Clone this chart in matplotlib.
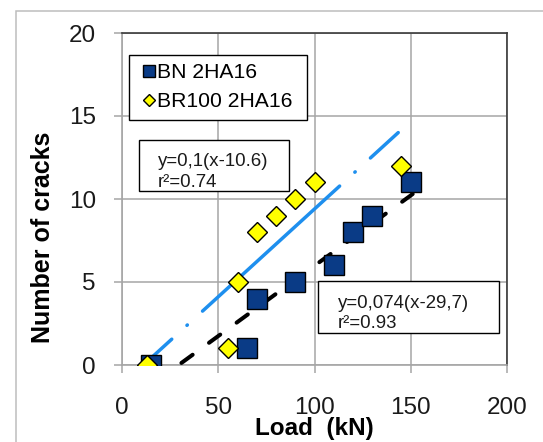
import matplotlib
matplotlib.use("Agg")
import matplotlib.pyplot as plt
from matplotlib.patches import Rectangle

plt.rcParams['font.family'] = ['Liberation Sans', 'DejaVu Sans']
plt.rcParams['lines.scale_dashes'] = False

# measured points
bn_load = [15, 65, 70, 90, 110, 120, 130, 150]
bn_cracks = [0, 1, 4, 5, 6, 8, 9, 11]
br_load = [13, 55, 60, 70, 80, 90, 100, 145]
br_cracks = [0, 1, 5, 8, 9, 10, 11, 12]

# trend lines as drawn (end points)
br_fit_load = [15.4, 143.5]
br_fit_cracks = [0.45, 14.0]
bn_fit_load = [30, 151]
bn_fit_cracks = [0.05, 10.3]

br_eq = ["y=0,1(x-10.6)", "r²=0.74"]
bn_eq = ["y=0,074(x-29,7)", "r²=0.93"]

x_ticks = [0, 50, 100, 150, 200]
y_ticks = [0, 5, 10, 15, 20]

navy = '#0A3B86'
sky = '#1E8FEE'
grid_gray = '#A6A6A6'

fig = plt.figure(figsize=(5.43, 4.42), dpi=100)
ax = fig.add_axes([122/543, 1-365/442, 385/543, 332/442])

# outer chart border
fig.patches.append(Rectangle((16/543, -0.2), 1.2, 1.2 - 11/442, transform=fig.transFigure,
                             fill=False, edgecolor='#BDBDBD', lw=1.1, zorder=0))

ax.plot(br_fit_load, br_fit_cracks, color=sky, lw=2.5, solid_capstyle='round',
        dash_capstyle='round', linestyle=(114, (133.6, 14.8, 0.4, 14.8)), zorder=3)
ax.plot(bn_fit_load, bn_fit_cracks, color='black', lw=2.9, dash_capstyle='round',
        linestyle=(-1.5, (10, 14.6)), zorder=3)

ax.plot(bn_load, bn_cracks, 's', ms=14.5, mfc=navy, mec='black', mew=1.0,
        label='BN 2HA16', zorder=4)
ax.plot(br_load, br_cracks, 'D', ms=10.5, mfc='#FFFF00', mec='black', mew=1.0,
        label='BR100 2HA16', zorder=5)

ax.set_xlim(0, 200)
ax.set_ylim(0, 20)
ax.set_xticks(x_ticks)
ax.set_yticks(y_ticks)
ax.grid(True, color=grid_gray, lw=1.1, zorder=0)
ax.set_axisbelow(True)
ax.tick_params(direction='out', length=5.8, width=1.1, color=grid_gray,
               labelsize=17.5, labelcolor='#1A1A1A')
ax.tick_params(axis='x', pad=17)
ax.tick_params(axis='y', pad=13)
for s in ['top', 'right']:
    ax.spines[s].set_color('#3A3A3A')
    ax.spines[s].set_linewidth(1.2)
for s in ['left', 'bottom']:
    ax.spines[s].set_color(grid_gray)
    ax.spines[s].set_linewidth(1.2)

leg = ax.legend(loc='upper left', bbox_to_anchor=(0.018, 0.741, 0.462, 0.193),
                mode='expand', borderaxespad=0, fontsize=15.2, markerscale=0.58,
                handlelength=1.1, handletextpad=-0.15, borderpad=0.38,
                labelspacing=0.5, fancybox=False, framealpha=1, edgecolor='black')
leg.get_frame().set_linewidth(1.0)

# equation boxes
def eq_box(x0, y0, x1, y1, tx, ty, lines):
    r = Rectangle((x0, y0), x1 - x0, y1 - y0, facecolor='white', edgecolor='black',
                  lw=1.0, zorder=6)
    ax.add_patch(r)
    for t, yy in zip(lines, ty):
        txt = ax.text(tx, yy, t, fontsize=13.4, color='#1A1A1A', va='center',
                      ha='left', zorder=7)
        txt.set_clip_path(r)

eq_box(8.8, 10.48, 86.8, 13.55, 18.7, [12.23, 10.98], br_eq)
eq_box(101.8, 1.93, 195.8, 5.06, 112.2, [3.73, 2.53], bn_eq)

fig.text(314.5/543, 1-417/442, 'Load  (kN)', fontsize=17.5, fontweight='bold',
         ha='center', va='top')
fig.text(43/543, 1-237/442, 'Number of cracks', fontsize=18, fontweight='bold',
         rotation=90, ha='center', va='center')

fig.savefig('out.png', dpi=100)
